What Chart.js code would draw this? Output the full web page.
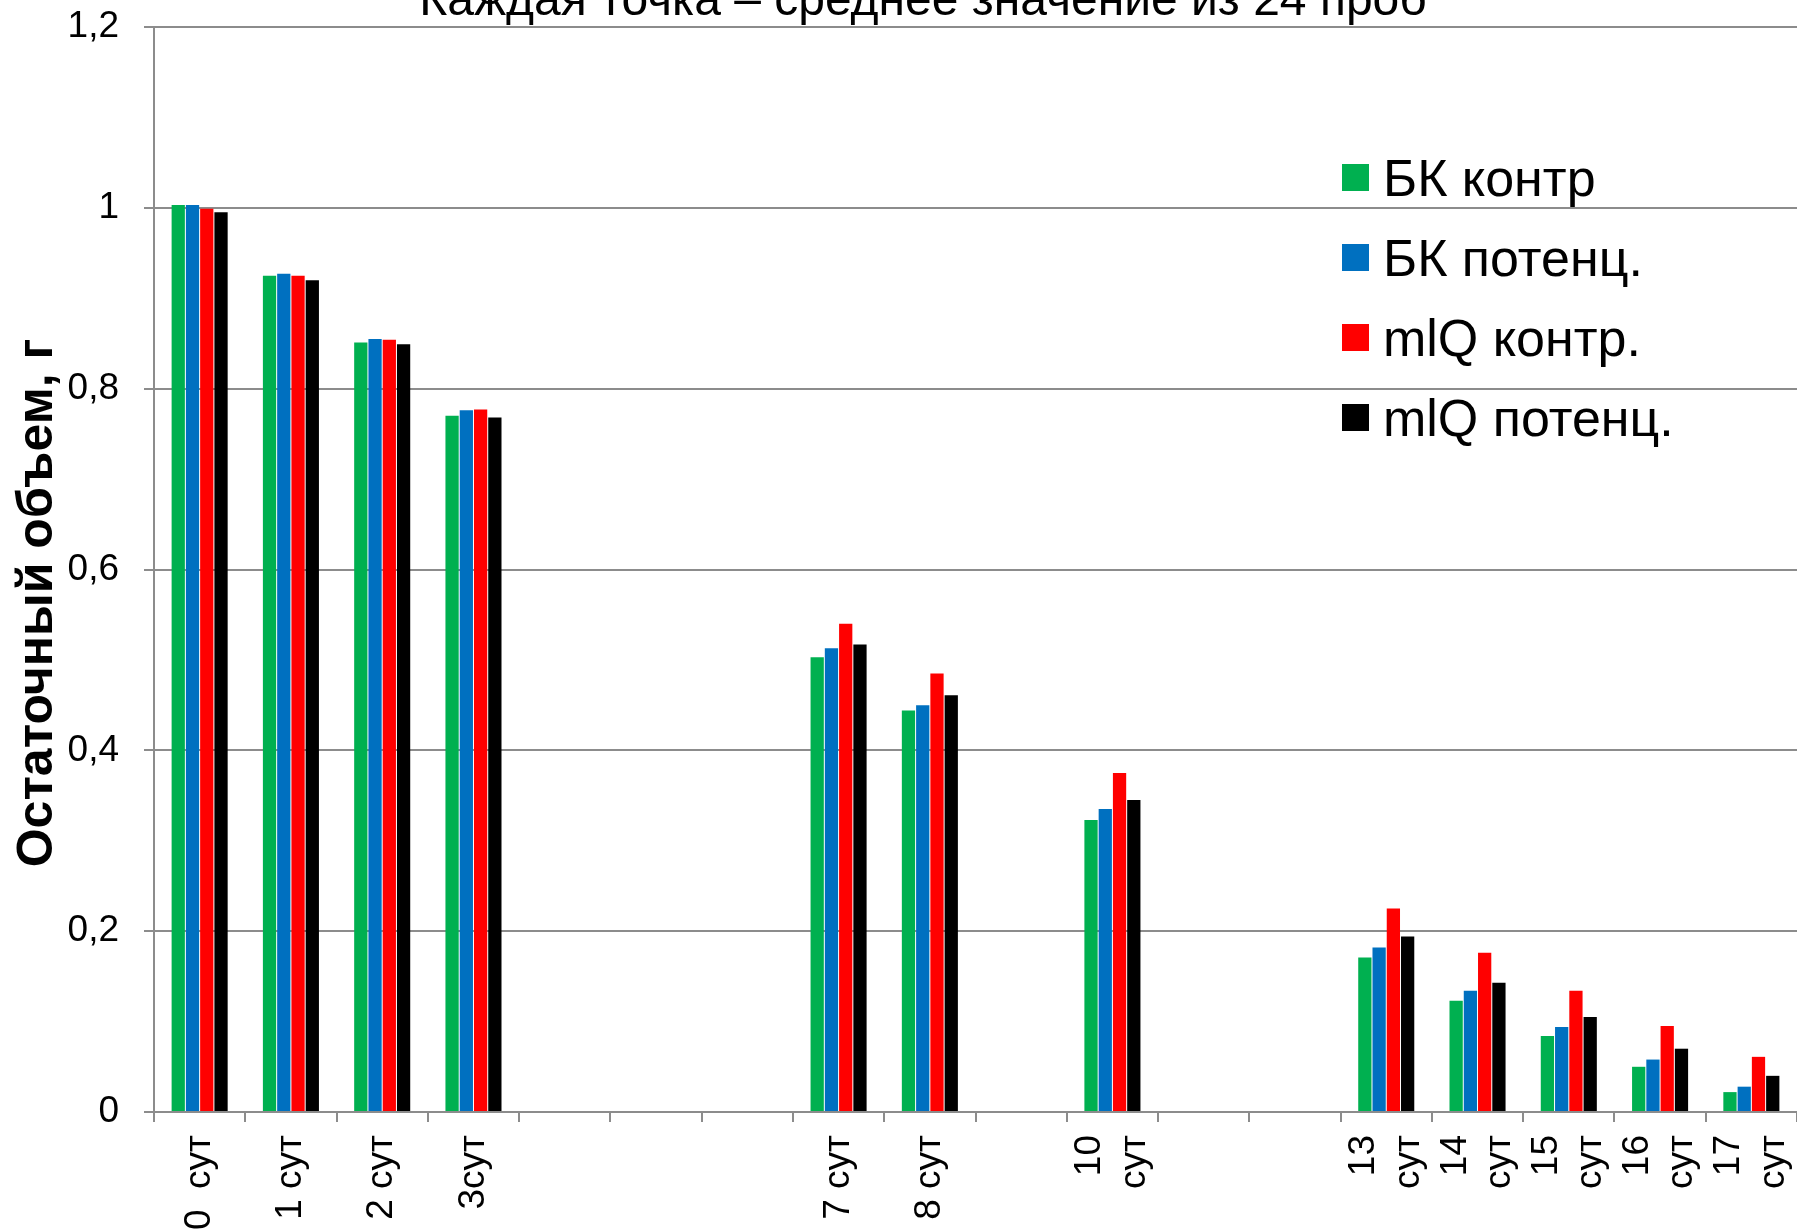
<!DOCTYPE html>
<html lang="ru">
<head>
<meta charset="utf-8">
<title>Остаточный объем</title>
<script src="https://cdn.jsdelivr.net/npm/chart.js@4/dist/chart.umd.min.js"></script>
<style>
  html, body { margin: 0; padding: 0; background: #ffffff; }
  #wrap { width: 1797px; height: 1232px; position: relative; }
  canvas { display: block; }
</style>
</head>
<body>
<div id="wrap"><canvas id="chart" width="1797" height="1232"></canvas></div>
<script>
// Days of sampling (empty slots keep the calendar spacing)
const categories = [
  '0  сут', '1 сут', '2 сут', '3сут', '', '', '',
  '7 сут', '8 сут', '', ['10', 'сут'], '', '',
  ['13', 'сут'], ['14', 'сут'], ['15', 'сут'], ['16', 'сут'], ['17', 'сут']
];

const seriesNames = ['БК контр', 'БК потенц.', 'mlQ контр.', 'mlQ потенц.'];
const seriesColors = ['#00B050', '#0070C0', '#FF0000', '#000000'];

// Residual volume, g (mean of 24 samples)
const bkControl = [1.003, 0.925, 0.851, 0.770, null, null, null, 0.503, 0.444, null, 0.323, null, null, 0.171, 0.123, 0.084, 0.050, 0.022];
const bkPotent  = [1.003, 0.927, 0.855, 0.776, null, null, null, 0.513, 0.450, null, 0.335, null, null, 0.182, 0.134, 0.094, 0.058, 0.028];
const mlqControl = [0.999, 0.925, 0.854, 0.777, null, null, null, 0.540, 0.485, null, 0.375, null, null, 0.225, 0.176, 0.134, 0.095, 0.061];
const mlqPotent  = [0.995, 0.920, 0.849, 0.768, null, null, null, 0.517, 0.461, null, 0.345, null, null, 0.194, 0.143, 0.105, 0.070, 0.040];

const yTickLabels = ['0', '0,2', '0,4', '0,6', '0,8', '1', '1,2'];

const titleText = 'Каждая точка – среднее значение из 24 проб';
const yAxisTitle = 'Остаточный объем, г';

const FONT = '"Liberation Sans", Arial, sans-serif';
const GRID = '#8c8c8c';

// Centre wrapped (two-line) category labels on their tick
const centreWrappedLabels = {
  id: 'centreWrappedLabels',
  beforeDraw(chart) {
    const items = chart.scales.x.getLabelItems();
    for (const it of items) {
      if (Array.isArray(it.label) && it.label.length > 1 && !it._centred) {
        const lh = (it.font && it.font.lineHeight) || 44;
        it.options.translation[0] -= (it.label.length - 1) * lh / 2;
        it._centred = true;
      }
    }
  }
};

// Title, vertical axis title and legend drawn over the plot
const annotations = {
  id: 'annotations',
  afterDraw(chart) {
    const ctx = chart.ctx;
    ctx.save();
    ctx.fillStyle = '#000';

    // title (partly above the top edge)
    ctx.font = '48px ' + FONT;
    ctx.textAlign = 'center';
    ctx.textBaseline = 'alphabetic';
    ctx.fillText(titleText, 923, 15);

    // vertical axis title
    ctx.save();
    ctx.translate(52, 603);
    ctx.rotate(-Math.PI / 2);
    ctx.font = 'bold 50px ' + FONT;
    ctx.textAlign = 'center';
    ctx.textBaseline = 'alphabetic';
    ctx.fillText(yAxisTitle, 0, 0);
    ctx.restore();

    // legend
    const x0 = 1342, y0 = 164, step = 80, box = 27;
    ctx.font = '52px ' + FONT;
    ctx.textAlign = 'left';
    ctx.textBaseline = 'alphabetic';
    chart.data.datasets.forEach((ds, i) => {
      const y = y0 + i * step;
      ctx.fillStyle = ds.backgroundColor;
      ctx.fillRect(x0, y, box, box);
      ctx.fillStyle = '#000';
      ctx.fillText(ds.label, x0 + 41, y + 32);
    });
    ctx.restore();
  }
};

const seriesData = [bkControl, bkPotent, mlqControl, mlqPotent];

new Chart(document.getElementById('chart'), {
  type: 'bar',
  data: {
    labels: categories,
    datasets: seriesNames.map((name, i) => ({
      label: name,
      data: seriesData[i],
      backgroundColor: seriesColors[i],
      borderWidth: 0,
      categoryPercentage: 0.625,
      barPercentage: 0.93
    }))
  },
  options: {
    responsive: false,
    devicePixelRatio: 1,
    animation: false,
    layout: { padding: { top: 27, left: 0, right: 0, bottom: 0 } },
    plugins: {
      legend: { display: false },
      title: { display: false },
      tooltip: { enabled: false }
    },
    scales: {
      x: {
        offset: true,
        grid: {
          offset: true,
          drawOnChartArea: false,
          drawTicks: true,
          tickLength: 10,
          color: GRID,
          lineWidth: 2
        },
        border: { display: true, color: GRID, width: 2 },
        ticks: {
          autoSkip: false,
          maxRotation: 90,
          minRotation: 90,
          padding: 13,
          color: '#000',
          font: { family: FONT, size: 37, lineHeight: 1.2 }
        },
        afterFit(scale) {
          scale.height = 120;
          scale.paddingLeft = 0;
          scale.paddingRight = 0;
        }
      },
      y: {
        min: 0,
        max: 1.2,
        grid: {
          drawTicks: true,
          tickLength: 10,
          color: GRID,
          lineWidth: 2
        },
        border: { display: true, color: GRID, width: 2 },
        ticks: {
          stepSize: 0.2,
          padding: 25,
          color: '#000',
          font: { family: FONT, size: 37 },
          callback: (value, index) => yTickLabels[index]
        },
        afterFit(scale) {
          scale.width = 154;
          scale.paddingTop = 0;
          scale.paddingBottom = 0;
        }
      }
    }
  },
  plugins: [centreWrappedLabels, annotations]
});
</script>
</body>
</html>
